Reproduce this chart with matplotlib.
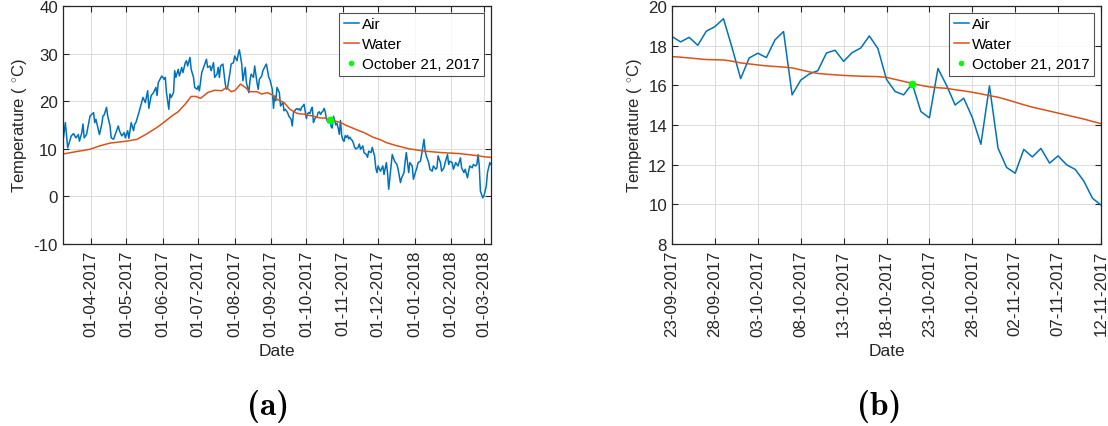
import numpy as np
import matplotlib
matplotlib.use("Agg")
import matplotlib.pyplot as plt
import matplotlib.dates as mdates
from matplotlib.lines import Line2D

plt.rcParams['font.family'] = ['Liberation Sans', 'DejaVu Sans']
plt.rcParams['mathtext.fontset'] = 'custom'
plt.rcParams['mathtext.rm'] = 'Liberation Sans'
plt.rcParams['mathtext.it'] = 'Liberation Sans'
plt.rcParams['axes.unicode_minus'] = False

# ---------------- data ----------------
start_date = np.datetime64('2017-03-08')

# Air temperature, day offsets from start_date (Mar 2017 - Sep 2017)
air_days_early = [0, 2, 4, 7, 9, 11, 13, 14, 16, 17, 18, 20, 23, 26, 27, 28, 31, 33, 34, 35,
                  37, 38, 40, 41, 43, 45, 47, 48, 50, 52, 53, 55, 56, 58, 60, 61, 62, 65, 68, 70,
                  72, 73, 75, 77, 79, 80, 81, 84, 86, 87, 88, 90, 91, 92, 94, 95, 96, 98, 99, 101,
                  102, 104, 105, 106, 108, 109, 111, 112, 114, 115, 116, 118, 119, 121, 122, 123,
                  125, 126, 128, 129, 131, 132, 133, 134, 136, 138, 139, 140, 142, 143, 145, 146,
                  148, 149, 150, 152, 153, 155, 156, 158, 159, 160, 162, 163, 165, 166, 167, 169,
                  170, 172, 173, 175, 176, 178, 179, 180, 181, 182, 184, 185, 187, 188, 189, 191,
                  192, 194, 195, 196, 198]
air_vals_early = [11.6, 15.5, 10.2, 12.7, 13.2, 12.3, 13.0, 11.6, 13.4, 15.2, 12.3, 13.0, 16.9, 17.6,
                  15.5, 16.2, 13.0, 15.2, 16.9, 17.1, 18.7, 16.9, 14.8, 12.3, 12.0, 13.4, 14.8, 13.8,
                  12.7, 13.4, 12.3, 13.8, 12.2, 15.5, 13.8, 15.2, 15.5, 18.0, 20.8, 19.7, 22.2, 18.5,
                  21.2, 21.8, 22.9, 21.2, 23.9, 25.3, 24.6, 25.0, 21.8, 18.3, 21.5, 20.8, 21.8, 26.4,
                  25.0, 26.7, 25.3, 27.1, 26.0, 28.1, 28.5, 27.4, 29.2, 26.7, 25.0, 22.9, 22.5, 23.2,
                  22.2, 26.0, 26.7, 28.1, 28.8, 27.1, 27.4, 26.4, 28.1, 25.0, 25.7, 27.1, 25.0, 27.4,
                  27.8, 23.6, 22.5, 22.9, 26.0, 27.8, 28.1, 29.5, 28.5, 29.9, 30.8, 27.8, 24.3, 27.1,
                  23.9, 21.8, 24.3, 25.7, 25.0, 27.4, 23.9, 22.5, 24.6, 25.3, 26.4, 27.4, 27.8, 25.0,
                  24.5, 22.5, 18.5, 21.1, 20.1, 22.9, 21.8, 19.0, 19.7, 18.0, 18.3, 17.6, 16.9, 16.2,
                  14.8, 17.6, 18.3]

# Air temperature, daily from 23-09-2017 to 12-11-2017 (days 199..249)
air_vals_autumn = [18.46, 18.19, 18.42, 18.02, 18.73, 18.96, 19.36, 17.9, 16.34, 17.38,
                   17.62, 17.40, 18.29, 18.71, 15.52, 16.26, 16.57, 16.74, 17.63, 17.77,
                   17.21, 17.65, 17.88, 18.49, 17.85, 16.3, 15.69, 15.52, 16.09, 14.68,
                   14.36, 16.85, 16.0, 15.01, 15.35, 14.38, 13.03, 15.97, 12.83, 11.86,
                   11.57, 12.77, 12.39, 12.82, 12.08, 12.44, 11.99, 11.76, 11.17, 10.31, 9.96]

# Air temperature, Nov 2017 - Mar 2018
air_days_late = [251, 252, 253, 255, 256, 258, 259, 260, 262, 263, 265, 266, 267, 268, 269, 270,
                 272, 273, 275, 276, 277, 279, 280, 281, 282, 284, 285, 287, 288, 290, 291, 292,
                 294, 295, 297, 298, 300, 301, 302, 304, 305, 307, 308, 309, 311, 312, 314, 315,
                 317, 318, 319, 321, 322, 324, 325, 327, 328, 329, 331, 332, 334, 335, 336, 338,
                 339, 341, 342, 344, 345, 346, 348, 349, 351, 352, 353, 354, 355, 357, 358, 360,
                 361, 363, 364]
air_vals_late = [10.3, 11.0, 9.9, 10.6, 9.2, 8.8, 8.2, 9.5, 9.2, 10.3, 8.5, 6.0, 5.0, 6.4, 5.8, 5.3,
                 6.4, 4.6, 7.1, 5.0, 1.5, 6.4, 8.8, 8.1, 7.4, 6.7, 5.7, 2.9, 3.9, 5.0, 7.4, 9.2,
                 5.0, 7.1, 6.4, 3.6, 5.3, 6.0, 7.1, 7.4, 8.8, 12.0, 9.5, 8.5, 7.1, 5.7, 5.3, 6.4,
                 5.7, 6.0, 8.5, 7.1, 5.3, 6.0, 7.1, 8.8, 6.7, 7.4, 7.1, 5.7, 7.1, 6.7, 6.4, 8.1,
                 6.0, 5.0, 5.7, 3.9, 5.3, 6.4, 6.0, 6.7, 6.4, 6.7, 8.8, 6.4, 1.1, -0.3, 0.1, 2.2,
                 5.0, 7.1, 6.7]

# Water temperature
water_days_early = [0, 11, 23, 31, 40, 54, 63, 71, 80, 86, 92, 98, 104, 109, 113, 117, 123, 129,
                    135, 139, 143, 146, 151, 155, 159, 165, 169, 174, 178, 182, 188, 193]
water_vals_early = [8.9, 9.4, 9.9, 10.6, 11.2, 11.6, 12.0, 13.1, 14.5, 15.6, 16.8, 17.8, 19.4,
                    21.0, 21.0, 20.6, 21.8, 22.3, 22.2, 22.9, 22.0, 22.2, 23.6, 22.9, 22.0, 22.0,
                    21.5, 21.8, 21.3, 20.4, 19.7, 18.3]
water_vals_autumn = [17.45, 17.42, 17.38, 17.34, 17.30, 17.29, 17.28, 17.22, 17.13, 17.08,
                     17.03, 16.98, 16.95, 16.92, 16.88, 16.78, 16.68, 16.60, 16.56, 16.53,
                     16.50, 16.48, 16.46, 16.45, 16.44, 16.40, 16.30, 16.20, 16.10, 16.00,
                     15.92, 15.88, 15.85, 15.78, 15.72, 15.65, 15.57, 15.48, 15.40, 15.28,
                     15.15, 15.02, 14.90, 14.80, 14.70, 14.60, 14.50, 14.40, 14.30, 14.18, 14.07]
water_days_late = [256, 264, 270, 275, 283, 294, 308, 322, 337, 351, 359, 364]
water_vals_late = [13.4, 12.4, 11.9, 11.3, 10.7, 10.0, 9.5, 9.2, 9.0, 8.6, 8.3, 8.2]

autumn_first_day = 199  # 23-09-2017
highlight_date = np.datetime64('2017-10-21')
highlight_temp = 16.09
highlight_label = 'October 21, 2017'

# ---------------- assemble ----------------
autumn_days = list(range(autumn_first_day, autumn_first_day + len(air_vals_autumn)))
air_days = np.array(air_days_early + autumn_days + air_days_late)
air_vals = np.array(air_vals_early + air_vals_autumn + air_vals_late)
water_days = np.array(water_days_early + autumn_days + water_days_late)
water_vals = np.array(water_vals_early + water_vals_autumn + water_vals_late)

air_dates = start_date + air_days.astype('timedelta64[D]')
water_dates = start_date + water_days.astype('timedelta64[D]')

c_air = '#0072BD'
c_water = '#D95319'
c_green = '#00FF00'
txt = '#262626'

fig = plt.figure(figsize=(11.08, 4.27), dpi=100)
ax1 = fig.add_axes([63 / 1108, 1 - 245 / 427, 428 / 1108, 238 / 427])
ax2 = fig.add_axes([672 / 1108, 1 - 245 / 427, 429 / 1108, 238 / 427])

ylabel_text = r'Temperature ( $^{\circ}$C)'


def style(ax):
    ax.grid(True, color='#dcdcdc', linewidth=0.7)
    ax.set_axisbelow(True)
    for s in ax.spines.values():
        s.set_color(txt)
        s.set_linewidth(0.9)
    ax.tick_params(direction='in', top=True, right=True, length=4, width=0.8,
                   colors=txt, labelsize=12.2)
    ax.tick_params(axis='x', pad=4)
    ax.tick_params(axis='y', pad=3.6)
    ax.set_xlabel('Date', fontsize=12.5, color=txt, labelpad=5)
    ax.set_ylabel(ylabel_text, fontsize=12, color=txt, labelpad=3)


# ----- panel (a) -----
ax1.plot(air_dates, air_vals, color=c_air, lw=1.1, label='Air')
ax1.plot(water_dates, water_vals, color=c_water, lw=1.1, label='Water')
ax1.plot([highlight_date], [highlight_temp], 'o', color=c_green, ms=4.5, label=highlight_label)
ax1.set_xlim(start_date, start_date + np.timedelta64(364, 'D'))
ax1.set_ylim(-10, 40)
ax1.set_yticks([-10, 0, 10, 20, 30, 40])
ax1.xaxis.set_major_locator(mdates.MonthLocator(bymonthday=1))
ax1.xaxis.set_major_formatter(mdates.DateFormatter('%d-%m-%Y'))
style(ax1)
for lab in ax1.get_xticklabels():
    lab.set_rotation(90)

# ----- panel (b) -----
m_air = (air_days >= autumn_first_day) & (air_days <= autumn_days[-1])
m_water = (water_days >= autumn_first_day) & (water_days <= autumn_days[-1])
ax2.plot(air_dates[m_air], air_vals[m_air], color=c_air, lw=1.1, label='Air')
ax2.plot(water_dates[m_water], water_vals[m_water], color=c_water, lw=1.1, label='Water')
ax2.plot([highlight_date], [highlight_temp], 'o', color=c_green, ms=4.5, label=highlight_label)
d0 = start_date + np.timedelta64(autumn_first_day, 'D')
d1 = start_date + np.timedelta64(autumn_days[-1], 'D')
ax2.set_xlim(d0, d1)
ax2.set_ylim(8, 20)
ax2.set_yticks([8, 10, 12, 14, 16, 18, 20])
ax2.set_xticks(np.arange(d0, d1 + np.timedelta64(1, 'D'), np.timedelta64(5, 'D')))
ax2.xaxis.set_major_formatter(mdates.DateFormatter('%d-%m-%Y'))
style(ax2)
for lab in ax2.get_xticklabels():
    lab.set_rotation(90)

for ax in (ax1, ax2):
    handles = [Line2D([], [], color=c_air, lw=1.1),
               Line2D([], [], color=c_water, lw=1.1),
               Line2D([], [], marker='o', ls='none', color=c_green, ms=3)]
    leg = ax.legend(handles, ['Air', 'Water', highlight_label], loc='upper right',
                    fontsize=11, frameon=True, fancybox=False, handlelength=1.0,
                    handletextpad=0.2, borderpad=0.3, labelspacing=0.38,
                    borderaxespad=0.45)
    leg.get_frame().set_edgecolor(txt)
    leg.get_frame().set_linewidth(0.8)
    for t in leg.get_texts():
        t.set_color('black')

fig.text(268 / 1108, 1 - 407 / 427, '(a)', fontname='cmb10', fontsize=24, ha='center', va='center')
fig.text(879 / 1108, 1 - 407 / 427, '(b)', fontname='cmb10', fontsize=24, ha='center', va='center')

fig.savefig('out.png', dpi=100)
